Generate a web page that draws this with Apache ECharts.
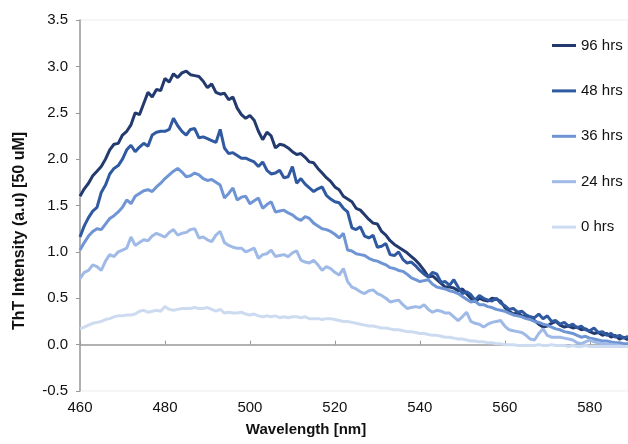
<!DOCTYPE html>
<html>
<head>
<meta charset="utf-8">
<script src="https://cdn.jsdelivr.net/npm/echarts@6/dist/echarts.min.js"></script>
<style>
html,body{margin:0;padding:0;background:#fff;}
#chart{width:628px;height:444px;}
</style>
</head>
<body>
<div id="chart"></div>
<script>
const wavelengths = [460,461,462,463,464,465,466,467,468,469,470,471,472,473,474,475,476,477,478,479,
480,481,482,483,484,485,486,487,488,489,490,491,492,493,494,495,496,497,498,499,
500,501,502,503,504,505,506,507,508,509,510,511,512,513,514,515,516,517,518,519,
520,521,522,523,524,525,526,527,528,529,530,531,532,533,534,535,536,537,538,539,
540,541,542,543,544,545,546,547,548,549,550,551,552,553,554,555,556,557,558,559,
560,561,562,563,564,565,566,567,568,569,570,571,572,573,574,575,576,577,578,579,
580,581,582,583,584,585,586,587,588,589];

const hrs96 = [1.60,1.68,1.74,1.82,1.87,1.92,2.00,2.10,2.16,2.17,2.26,2.30,2.37,2.50,2.48,2.60,2.72,2.67,2.75,2.74,
2.87,2.83,2.92,2.88,2.93,2.95,2.91,2.90,2.89,2.84,2.77,2.81,2.72,2.70,2.71,2.64,2.67,2.55,2.48,2.44,
2.47,2.42,2.30,2.21,2.29,2.25,2.12,2.16,2.15,2.12,2.08,2.05,2.06,2.02,1.97,1.96,1.90,1.85,1.80,1.76,
1.70,1.67,1.60,1.57,1.54,1.47,1.45,1.40,1.35,1.31,1.30,1.22,1.18,1.12,1.08,1.05,1.02,0.99,0.95,0.91,
0.86,0.80,0.73,0.74,0.70,0.66,0.62,0.62,0.61,0.58,0.60,0.55,0.50,0.46,0.50,0.48,0.47,0.50,0.49,0.47,
0.40,0.36,0.33,0.34,0.31,0.30,0.28,0.26,0.22,0.19,0.20,0.23,0.25,0.21,0.19,0.20,0.18,0.19,0.16,0.17,
0.14,0.12,0.13,0.10,0.12,0.08,0.10,0.06,0.08,0.05];

const hrs48 = [1.16,1.28,1.37,1.44,1.48,1.64,1.72,1.84,1.90,1.93,2.00,2.10,2.15,2.08,2.13,2.17,2.14,2.26,2.29,2.30,
2.30,2.32,2.44,2.36,2.30,2.26,2.32,2.33,2.23,2.24,2.22,2.20,2.18,2.32,2.12,2.06,2.07,2.04,2.01,2.01,
1.99,1.97,1.92,1.97,1.88,1.84,1.85,1.88,1.80,1.81,1.92,1.74,1.79,1.73,1.69,1.65,1.68,1.70,1.61,1.57,
1.54,1.53,1.47,1.43,1.26,1.24,1.27,1.17,1.15,1.18,1.05,1.06,1.09,0.97,0.96,1.00,0.92,0.88,0.89,0.85,
0.80,0.76,0.73,0.78,0.76,0.67,0.68,0.64,0.70,0.62,0.55,0.57,0.54,0.48,0.53,0.50,0.48,0.47,0.50,0.45,
0.42,0.38,0.39,0.35,0.36,0.32,0.30,0.29,0.33,0.28,0.31,0.25,0.26,0.22,0.24,0.20,0.22,0.18,0.20,0.16,
0.15,0.18,0.13,0.14,0.10,0.12,0.08,0.10,0.07,0.09];

const hrs36 = [1.02,1.10,1.17,1.22,1.25,1.24,1.30,1.36,1.39,1.43,1.48,1.56,1.52,1.60,1.63,1.66,1.67,1.65,1.70,1.74,
1.79,1.83,1.87,1.90,1.86,1.81,1.82,1.85,1.83,1.79,1.77,1.78,1.75,1.72,1.58,1.63,1.69,1.56,1.59,1.60,
1.52,1.55,1.58,1.47,1.51,1.54,1.43,1.44,1.45,1.42,1.40,1.36,1.34,1.38,1.36,1.31,1.28,1.25,1.24,1.22,
1.19,1.15,1.20,1.02,1.01,0.98,0.97,0.96,0.93,0.91,0.90,0.88,0.86,0.83,0.82,0.80,0.79,0.76,0.72,0.70,
0.68,0.69,0.70,0.65,0.62,0.61,0.60,0.58,0.57,0.55,0.52,0.49,0.46,0.47,0.43,0.43,0.41,0.40,0.38,0.37,
0.36,0.34,0.32,0.31,0.30,0.28,0.27,0.25,0.24,0.22,0.21,0.19,0.17,0.16,0.14,0.13,0.12,0.10,0.08,0.09,
0.07,0.06,0.05,0.04,0.04,0.03,0.02,0.02,0.01,0.01];

const hrs24 = [0.71,0.78,0.80,0.86,0.84,0.80,0.90,0.97,0.95,1.00,1.02,1.04,1.16,1.07,1.10,1.13,1.12,1.17,1.20,1.18,
1.16,1.21,1.24,1.18,1.20,1.21,1.24,1.25,1.15,1.16,1.13,1.11,1.18,1.22,1.10,1.07,1.05,1.04,1.04,1.00,
1.02,1.04,0.93,0.97,0.98,1.02,0.95,0.96,0.97,0.95,0.99,1.01,0.91,0.89,0.88,0.91,0.86,0.80,0.84,0.82,
0.78,0.75,0.82,0.68,0.62,0.60,0.57,0.55,0.58,0.59,0.55,0.53,0.50,0.46,0.47,0.48,0.43,0.39,0.40,0.41,
0.40,0.43,0.38,0.35,0.37,0.36,0.34,0.34,0.30,0.26,0.30,0.35,0.25,0.23,0.22,0.19,0.22,0.24,0.25,0.26,
0.20,0.16,0.15,0.14,0.13,0.10,0.06,0.05,0.12,0.17,0.10,0.08,0.08,0.08,0.07,0.06,0.05,0.02,0.01,0.03,
0.05,0.03,0.02,0.01,0.01,0.00,0.00,-0.01,-0.02,-0.02];

const hrs0 = [0.17,0.19,0.21,0.23,0.24,0.25,0.27,0.28,0.30,0.31,0.31,0.32,0.32,0.33,0.36,0.37,0.35,0.36,0.37,0.36,
0.41,0.38,0.37,0.38,0.39,0.39,0.39,0.40,0.39,0.39,0.40,0.38,0.36,0.38,0.34,0.35,0.34,0.34,0.35,0.33,
0.32,0.33,0.31,0.30,0.31,0.30,0.31,0.29,0.30,0.29,0.30,0.30,0.29,0.30,0.28,0.28,0.28,0.27,0.28,0.28,
0.27,0.26,0.25,0.25,0.24,0.23,0.22,0.21,0.20,0.20,0.19,0.18,0.18,0.17,0.16,0.16,0.15,0.14,0.14,0.13,
0.12,0.12,0.11,0.10,0.10,0.09,0.08,0.08,0.07,0.06,0.06,0.05,0.04,0.04,0.03,0.03,0.02,0.02,0.01,0.01,
0.00,0.00,0.00,-0.01,-0.01,-0.01,-0.01,-0.01,0.00,-0.01,-0.01,0.00,-0.01,-0.01,-0.01,-0.02,-0.01,-0.02,-0.02,-0.01,
-0.02,-0.02,-0.02,-0.02,-0.02,-0.02,-0.02,-0.02,-0.02,-0.02];

const seriesNames = ['96 hrs','48 hrs','36 hrs','24 hrs','0 hrs'];
const seriesValues = [hrs96, hrs48, hrs36, hrs24, hrs0];
const seriesColors = ['#233a6e','#2f59a0','#6f95d5','#9fbae6','#cddbf1'];

const xTickLabels = ['460','480','500','520','540','560','580'];
const yTickLabels = ['-0.5','0.0','0.5','1.0','1.5','2.0','2.5','3.0','3.5'];

const FONT = '"Liberation Sans", Arial, Helvetica, sans-serif';

const chart = echarts.init(document.getElementById('chart'), null, {renderer:'canvas'});

const series = seriesNames.map((name, i) => ({
  name: name,
  type: 'line',
  xAxisIndex: 0,
  yAxisIndex: 0,
  showSymbol: false,
  symbol: 'none',
  smooth: false,
  lineStyle: {width: 3, color: seriesColors[i]},
  itemStyle: {color: seriesColors[i]},
  data: wavelengths.map((w, k) => [w, seriesValues[i][k]])
}));

const xFmt = v => (xTickLabels.indexOf(String(v)) >= 0 ? String(v) : '');

chart.setOption({
  animation: false,
  backgroundColor: '#ffffff',
  textStyle: {fontFamily: FONT},
  grid: {left: 80, right: 0, top: 20, bottom: 53, show: true, borderColor: '#ededed', borderWidth: 1, containLabel: false},
  legend: {
    orient: 'vertical',
    left: 552,
    top: 38,
    padding: 0,
    itemGap: 30.4,
    itemWidth: 24,
    itemHeight: 3,
    icon: 'rect',
    data: seriesNames,
    textStyle: {fontSize: 15, color: '#111', fontFamily: FONT, lineHeight: 15}
  },
  xAxis: [
    {
      type: 'value', min: 460, max: 589, interval: 20, position: 'bottom',
      axisLine: {show: false, onZero: false},
      axisTick: {show: false},
      splitLine: {show: false},
      axisLabel: {formatter: xFmt, fontSize: 15, color: '#111', margin: 9, fontFamily: FONT, showMaxLabel: false},
      name: 'Wavelength [nm]', nameLocation: 'middle', nameGap: 31,
      nameTextStyle: {fontSize: 15, fontWeight: 'bold', color: '#111', fontFamily: FONT, padding: [0, 96, 0, 0]}
    },
    {
      type: 'value', min: 460, max: 589, interval: 20, position: 'bottom',
      axisLine: {show: true, onZero: true, onZeroAxisIndex: 0, lineStyle: {color: '#999', width: 1.5}},
      axisTick: {show: true, inside: true, length: 4, lineStyle: {color: '#999', width: 1}},
      splitLine: {show: false},
      axisLabel: {show: false}
    }
  ],
  yAxis: {
    type: 'value', min: -0.5, max: 3.5, interval: 0.5,
    axisLine: {show: true, onZero: false, lineStyle: {color: '#999', width: 1.5}},
    axisTick: {show: true, inside: false, length: 4, lineStyle: {color: '#999'}},
    splitLine: {show: false},
    axisLabel: {formatter: v => v.toFixed(1), fontSize: 15, color: '#111', margin: 12, fontFamily: FONT},
    name: 'ThT Intensity (a.u) [50 uM]', nameLocation: 'middle', nameGap: 52,
    nameTextStyle: {fontSize: 16, fontWeight: 'bold', color: '#111', fontFamily: FONT, padding: [0, 51, 0, 0]}
  },
  series: series
});
</script>
</body>
</html>
